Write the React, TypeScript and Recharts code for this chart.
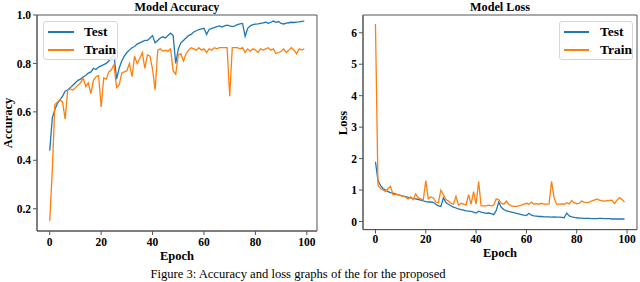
import React from 'react';
import { LineChart, Line, XAxis, YAxis, Legend, ReferenceArea } from 'recharts';

const epochs: number[] = Array.from({ length: 100 }, (_, i) => i);

const testAcc = [
  0.44, 0.575, 0.61, 0.635, 0.65, 0.665, 0.685, 0.69, 0.7, 0.71,
  0.72, 0.73, 0.735, 0.745, 0.75, 0.76, 0.765, 0.78, 0.775, 0.785,
  0.79, 0.795, 0.8, 0.81, 0.825, 0.835, 0.735, 0.78, 0.81, 0.83,
  0.845, 0.855, 0.865, 0.87, 0.88, 0.885, 0.89, 0.895, 0.895, 0.905,
  0.915, 0.885, 0.895, 0.905, 0.91, 0.905, 0.915, 0.925, 0.915, 0.8,
  0.86, 0.885, 0.895, 0.905, 0.915, 0.92, 0.93, 0.935, 0.94, 0.943,
  0.945, 0.92, 0.94, 0.945, 0.948, 0.952, 0.955, 0.95, 0.955, 0.958,
  0.955, 0.952, 0.955, 0.96, 0.963, 0.965, 0.912, 0.945, 0.955, 0.96,
  0.962, 0.963, 0.965, 0.967, 0.97, 0.966, 0.97, 0.975, 0.97, 0.973,
  0.965, 0.963, 0.966, 0.968, 0.97, 0.969, 0.971, 0.972, 0.974, 0.975,
];

const trainAcc = [
  0.15, 0.36, 0.63, 0.64, 0.65, 0.64, 0.57, 0.69, 0.695, 0.69,
  0.7, 0.71, 0.72, 0.74, 0.705, 0.72, 0.675, 0.73, 0.745, 0.75,
  0.62, 0.74, 0.735, 0.765, 0.775, 0.795, 0.7, 0.71, 0.76, 0.765,
  0.77, 0.8, 0.745, 0.83, 0.8, 0.82, 0.845, 0.78, 0.835, 0.83,
  0.775, 0.69, 0.855, 0.86, 0.85, 0.855, 0.85, 0.86, 0.77, 0.755,
  0.835, 0.84, 0.81, 0.84, 0.855, 0.865, 0.86, 0.855, 0.865, 0.855,
  0.86, 0.845, 0.86, 0.855, 0.865, 0.86, 0.865, 0.865, 0.865, 0.865,
  0.665, 0.865, 0.865, 0.865, 0.86, 0.865, 0.845, 0.86, 0.85, 0.86,
  0.855, 0.845, 0.86, 0.855, 0.86, 0.865, 0.855, 0.86, 0.84, 0.845,
  0.85, 0.86, 0.845, 0.855, 0.865, 0.855, 0.84, 0.86, 0.855, 0.86,
];

const testLoss = [
  1.9, 1.3, 1.15, 1.05, 1.0, 0.95, 0.92, 0.9, 0.88, 0.85,
  0.83, 0.81, 0.79, 0.77, 0.75, 0.73, 0.72, 0.7, 0.68, 0.66,
  0.63, 0.62, 0.62, 0.61, 0.55, 0.5, 0.48, 0.75, 0.6, 0.55,
  0.5, 0.46, 0.43, 0.4, 0.38, 0.36, 0.34, 0.33, 0.32, 0.3,
  0.27, 0.33, 0.3, 0.28, 0.26, 0.27, 0.25, 0.22, 0.35, 0.62,
  0.45, 0.38, 0.34, 0.32, 0.3, 0.28, 0.26, 0.24, 0.22, 0.2,
  0.19, 0.26, 0.2, 0.18, 0.17, 0.16, 0.16, 0.15, 0.15, 0.15,
  0.14, 0.15, 0.14, 0.14, 0.13, 0.12, 0.27, 0.18, 0.15, 0.13,
  0.12, 0.11, 0.11, 0.1, 0.1, 0.1, 0.09, 0.09, 0.09, 0.1,
  0.1, 0.09, 0.09, 0.09, 0.08, 0.08, 0.08, 0.08, 0.08, 0.08,
];

const trainLoss = [
  6.28, 1.15, 1.05, 1.0, 0.95, 1.05, 1.12, 0.85, 0.87, 0.85,
  0.82, 0.8, 0.78, 0.72, 0.78, 0.7, 0.88, 0.75, 0.72, 0.68,
  1.3, 0.72, 0.78, 0.75, 0.62, 0.6, 1.0, 0.85, 0.7, 0.65,
  0.58, 0.55, 0.8, 0.52, 0.58, 0.55, 0.52, 0.85, 0.55, 0.95,
  0.55, 1.27, 0.5, 0.5, 0.5, 0.52, 0.5, 0.52, 0.72, 0.7,
  0.58, 0.55, 0.65, 0.55, 0.5, 0.48, 0.48, 0.5, 0.52, 0.55,
  0.58, 0.55, 0.62, 0.55, 0.57, 0.55, 0.58, 0.55, 0.55, 0.56,
  1.28, 0.75, 0.55, 0.55, 0.56, 0.55, 0.6, 0.56, 0.67, 0.6,
  0.56, 0.58, 0.65, 0.62, 0.6, 0.62, 0.66, 0.68, 0.72, 0.68,
  0.66, 0.65, 0.66, 0.67, 0.68, 0.57, 0.68, 0.76, 0.7, 0.62,
];

const epochTicks = [0, 20, 40, 60, 80, 100];
const accTicks = [0.2, 0.4, 0.6, 0.8, 1.0];
const lossTicks = [0, 1, 2, 3, 4, 5, 6];

const xDomain: [number, number] = [-4.95, 103.95];
const accDomain: [number, number] = [0.108, 1.0];
const lossDomain: [number, number] = [-0.257, 6.565];

const accData = epochs.map((e, i) => ({ epoch: e, test: testAcc[i], train: trainAcc[i] }));
const lossData = epochs.map((e, i) => ({ epoch: e, test: testLoss[i], train: trainLoss[i] }));

const BLUE = '#1f77b4';
const ORANGE = '#ff7f0e';
const SPINE = '#555';
const FONT = '"Liberation Serif", "Times New Roman", serif';

const tickStyle = { fontFamily: FONT, fontWeight: 'bold' as const, fontSize: 11.5, fill: '#000' };

const makeLegend = (lineStart: number, lineLen: number, textX: number, w: number, h: number) =>
  (props: any) => {
    const payload = props.payload || [];
    return (
      <div
        style={{
          position: 'relative',
          width: w,
          height: h,
          boxSizing: 'border-box',
          border: '1px solid #d6d6d6',
          borderRadius: 3,
          background: 'rgba(255,255,255,0.85)',
          fontFamily: FONT,
          fontWeight: 'bold',
          fontSize: 13.5,
          color: '#000',
        }}
      >
        {payload.map((p: any, i: number) => (
          <div key={i} style={{ position: 'absolute', left: 0, top: 1 + i * 18, height: 18, width: w }}>
            <div
              style={{
                position: 'absolute',
                left: lineStart,
                top: 8,
                width: lineLen,
                height: 1.5,
                background: p.color,
              }}
            />
            <span style={{ position: 'absolute', left: textX, top: 0, lineHeight: '17px' }}>{p.value}</span>
          </div>
        ))}
      </div>
    );
  };

const xLabelContent = (text: string, baseline: number) => (props: any) => {
  const vb = props.viewBox || {};
  return (
    <text
      x={vb.x + vb.width / 2}
      y={baseline}
      textAnchor="middle"
      style={{ fontFamily: FONT, fontWeight: 'bold', fontSize: 12.5 }}
      fill="#000"
    >
      {text}
    </text>
  );
};

const yLabelContent = (text: string, x: number, cy: number) => () => (
  <text
    x={x}
    y={cy}
    textAnchor="middle"
    transform={`rotate(-90, ${x}, ${cy})`}
    style={{ fontFamily: FONT, fontWeight: 'bold', fontSize: 12.5 }}
    fill="#000"
  >
    {text}
  </text>
);

const titleStyle = (left: number, width: number): React.CSSProperties => ({
  position: 'absolute',
  left,
  width,
  top: 0,
  textAlign: 'center',
  fontFamily: FONT,
  fontWeight: 'bold',
  fontSize: 12.2,
  lineHeight: 'normal',
  color: '#000',
  whiteSpace: 'nowrap',
});

export default function App() {
  return (
    <div style={{ position: 'absolute', left: 0, top: 0, width: 640, height: 282, background: '#fff', overflow: 'hidden' }}>
      <div style={{ position: 'absolute', left: 0, top: 0 }}>
        <LineChart width={320} height={282} data={accData} margin={{ top: 15, right: 3, bottom: 0, left: 0 }}>
          <XAxis
            dataKey="epoch"
            type="number"
            domain={xDomain}
            ticks={epochTicks}
            allowDataOverflow
            height={51}
            tickSize={4}
            tickMargin={3}
            tick={tickStyle}
            axisLine={{ stroke: SPINE }}
            tickLine={{ stroke: SPINE }}
            label={{ content: xLabelContent('Epoch', 260) }}
          />
          <YAxis
            type="number"
            domain={accDomain}
            ticks={accTicks}
            allowDataOverflow
            width={37}
            tickSize={4}
            tickMargin={2}
            tick={tickStyle}
            tickFormatter={(v: number) => v.toFixed(1)}
            axisLine={{ stroke: SPINE }}
            tickLine={{ stroke: SPINE }}
            label={{ content: yLabelContent('Accuracy', 11.5, 123) }}
          />
          <ReferenceArea
            x1={xDomain[0]}
            x2={xDomain[1]}
            y1={accDomain[0]}
            y2={accDomain[1]}
            fill="none"
            fillOpacity={0}
            stroke={SPINE}
            strokeWidth={1}
            ifOverflow="visible"
          />
          <Legend
            layout="vertical"
            align="center"
            verticalAlign="middle"
            wrapperStyle={{ position: 'absolute', left: 43, top: 21, width: 75, height: 39 }}
            content={makeLegend(4, 26, 40, 75, 39)}
          />
          <Line name="Test" dataKey="test" stroke={BLUE} strokeWidth={1.3} dot={false} isAnimationActive={false} />
          <Line name="Train" dataKey="train" stroke={ORANGE} strokeWidth={1.3} dot={false} isAnimationActive={false} />
        </LineChart>
      </div>
      <div style={{ position: 'absolute', left: 320, top: 0 }}>
        <LineChart width={320} height={282} data={lossData} margin={{ top: 15, right: 3, bottom: 0, left: 0 }}>
          <XAxis
            dataKey="epoch"
            type="number"
            domain={xDomain}
            ticks={epochTicks}
            allowDataOverflow
            height={52.4}
            tickSize={4}
            tickMargin={1}
            tick={tickStyle}
            axisLine={{ stroke: SPINE }}
            tickLine={{ stroke: SPINE }}
            label={{ content: xLabelContent('Epoch', 257) }}
          />
          <YAxis
            type="number"
            domain={lossDomain}
            ticks={lossTicks}
            allowDataOverflow
            width={43}
            tickSize={4}
            tickMargin={2}
            tick={tickStyle}
            axisLine={{ stroke: SPINE }}
            tickLine={{ stroke: SPINE }}
            label={{ content: yLabelContent('Loss', 26.5, 123) }}
          />
          <ReferenceArea
            x1={xDomain[0]}
            x2={xDomain[1]}
            y1={lossDomain[0]}
            y2={lossDomain[1]}
            fill="none"
            fillOpacity={0}
            stroke={SPINE}
            strokeWidth={1}
            ifOverflow="visible"
          />
          <Legend
            layout="vertical"
            align="center"
            verticalAlign="middle"
            wrapperStyle={{ position: 'absolute', left: 239, top: 21, width: 74, height: 39 }}
            content={makeLegend(4, 25, 40, 74, 39)}
          />
          <Line name="Test" dataKey="test" stroke={BLUE} strokeWidth={1.3} dot={false} isAnimationActive={false} />
          <Line name="Train" dataKey="train" stroke={ORANGE} strokeWidth={1.3} dot={false} isAnimationActive={false} />
        </LineChart>
      </div>
      <div style={titleStyle(37, 280)}>Model Accuracy</div>
      <div style={titleStyle(363, 274)}>Model Loss</div>
      <div
        style={{
          position: 'absolute',
          left: 0,
          width: 596,
          top: 267,
          textAlign: 'center',
          fontFamily: FONT,
          fontSize: 12.6,
          lineHeight: '15px',
          color: '#000',
          whiteSpace: 'nowrap',
        }}
      >
        Figure 3: Accuracy and loss graphs of the for the proposed
      </div>
    </div>
  );
}
